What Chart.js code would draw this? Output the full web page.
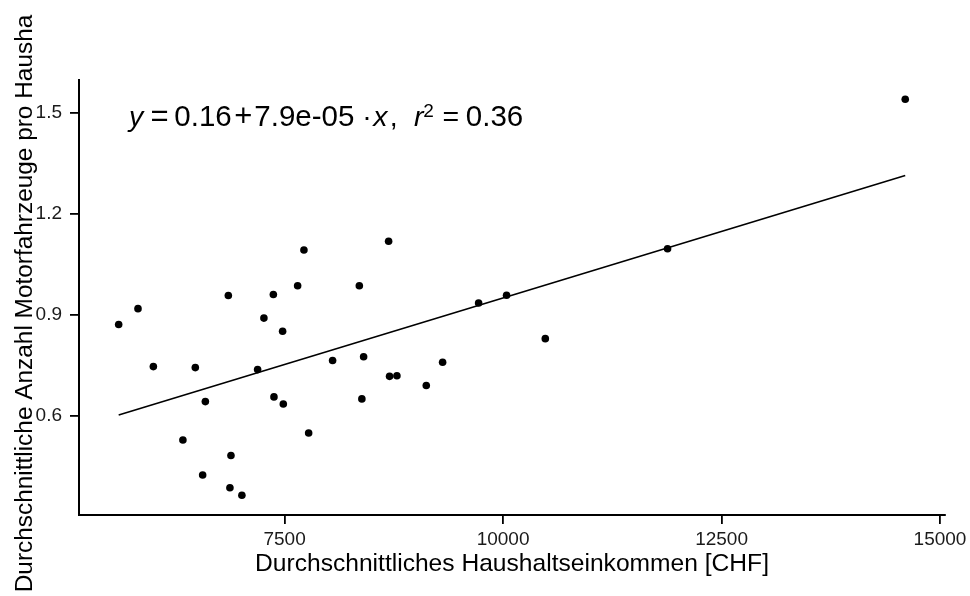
<!DOCTYPE html>
<html>
<head>
<meta charset="utf-8">
<script src="https://cdn.jsdelivr.net/npm/chart.js@4.4.0/dist/chart.umd.min.js"></script>
<style>
  html, body { margin: 0; padding: 0; background: #fff; }
  #wrap { width: 970px; height: 596px; }
</style>
</head>
<body>
<div id="wrap"><canvas id="c" width="970" height="596"></canvas></div>
<script>
// Average household income per area [CHF] and average vehicles per household
const income = [
  5601, 5822, 5998, 6478, 6856, 6593, 6336, 6886, 6562, 6874,
  7011, 7263, 7371, 7477, 7191, 7378, 7485, 7649, 7721, 7775,
  8049, 8355, 8404, 8384, 8690, 8701, 8785, 9121, 9308, 9720,
  10040, 10483, 11882, 14602
];
const vehicles = [
  0.871, 0.918, 0.746, 0.743, 0.957, 0.642, 0.528, 0.482, 0.424, 0.386,
  0.364, 0.890, 0.960, 0.851, 0.737, 0.656, 0.635, 0.986, 1.092, 0.549,
  0.764, 0.986, 0.775, 0.650, 1.118, 0.717, 0.719, 0.690, 0.759, 0.935,
  0.958, 0.829, 1.096, 1.540
];

// Axis ticks
const xTicks = [7500, 10000, 12500, 15000];
const yTicks = [0.6, 0.9, 1.2, 1.5];

// Linear fit shown in the annotation
const fitIntercept = 0.16;
const fitSlope = 7.9e-05;
const rSquared = 0.36;

const xTitle = 'Durchschnittliches Haushaltseinkommen [CHF]';
const yTitle = 'Durchschnittliche Anzahl Motorfahrzeuge pro Hausha';

const FONT = "'Liberation Sans', Arial, sans-serif";

const xMinData = Math.min(...income);
const xMaxData = Math.max(...income);
const fitLine = [xMinData, xMaxData].map(x => ({ x, y: fitIntercept + fitSlope * x }));

function sciLabel(v) {
  const [m, e] = v.toExponential(1).split('e');
  const sign = e[0] === '-' ? '-' : '+';
  const digits = e.replace(/^[+-]/, '').padStart(2, '0');
  return m + 'e' + sign + digits;
}

// Equation text and y-axis title, drawn after the chart
const annotations = {
  id: 'annotations',
  afterDraw(chart) {
    const { ctx, chartArea } = chart;
    ctx.save();
    ctx.fillStyle = '#000';

    // y-axis title, rotated
    ctx.save();
    ctx.translate(32, (chartArea.top + chartArea.bottom) / 2 + 6);
    ctx.rotate(-Math.PI / 2);
    ctx.font = '24.4px ' + FONT;
    ctx.textAlign = 'center';
    ctx.textBaseline = 'alphabetic';
    ctx.fillText(yTitle, 0, 0);
    ctx.restore();

    // regression equation
    const x0 = chartArea.left + 49.3;
    const base = chartArea.top + 46;
    const pieces = [
      { t: 'y', it: true, dx: 0.7 },
      { t: '=', dx: 22.2, wide: true },
      { t: fitIntercept.toFixed(2), dx: 46, num: true },
      { t: '+', dx: 106, wide: true },
      { t: sciLabel(fitSlope), dx: 126, num: true },
      { t: '\u00B7', dx: 234 },
      { t: 'x', it: true, dx: 245 },
      { t: ',', dx: 261.5 },
      { t: 'r', it: true, dx: 285.7 },
      { t: '2', sup: true, dx: 295 },
      { t: '=', dx: 314.2 },
      { t: rSquared.toFixed(2), dx: 337.5, num: true }
    ];
    ctx.textAlign = 'left';
    ctx.textBaseline = 'alphabetic';
    pieces.forEach(p => {
      if (p.sup) {
        ctx.font = '19px ' + FONT;
        ctx.fillText(p.t, x0 + p.dx, base - 9);
      } else {
        const size = p.wide ? 31 : (p.num ? 29.5 : 28.5);
        ctx.font = (p.it ? 'italic ' : '') + size + 'px ' + FONT;
        ctx.fillText(p.t, x0 + p.dx, base);
      }
    });
    ctx.restore();
  }
};

new Chart(document.getElementById('c'), {
  type: 'scatter',
  data: {
    datasets: [
      {
        label: 'Fit',
        data: fitLine,
        showLine: true,
        borderColor: '#000',
        borderWidth: 1.6,
        pointRadius: 0,
        fill: false,
        order: 2
      },
      {
        label: 'Gemeinden',
        data: income.map((x, i) => ({ x, y: vehicles[i] })),
        backgroundColor: '#000',
        borderWidth: 0,
        pointRadius: 3.8,
        order: 1
      }
    ]
  },
  options: {
    responsive: false,
    animation: false,
    devicePixelRatio: 1,
    layout: { padding: { left: 0, right: 25, top: 80, bottom: 0 } },
    plugins: {
      legend: { display: false },
      tooltip: { enabled: false }
    },
    scales: {
      x: {
        type: 'linear',
        min: 5147,
        max: 15057,
        afterBuildTicks: s => { s.ticks = xTicks.map(v => ({ value: v })); },
        afterFit: s => { s.height = 81; s.paddingLeft = 0; s.paddingRight = 0; },
        ticks: {
          font: { family: FONT, size: 19 },
          color: '#1a1a1a',
          padding: 4,
          maxRotation: 0,
          autoSkip: false,
          callback: v => String(v)
        },
        grid: {
          drawOnChartArea: false,
          drawTicks: true,
          tickLength: 9,
          color: '#000',
          tickColor: '#000',
          lineWidth: 1.8,
          tickWidth: 1.8
        },
        border: { display: true, color: '#000', width: 2 },
        title: {
          display: true,
          text: xTitle,
          color: '#000',
          font: { family: FONT, size: 24.6 },
          padding: { top: 0, bottom: 17 }
        }
      },
      y: {
        type: 'linear',
        min: 0.3053,
        max: 1.597,
        afterBuildTicks: s => { s.ticks = yTicks.map(v => ({ value: v })); },
        afterFit: s => { s.width = 79; s.paddingTop = 0; s.paddingBottom = 0; },
        ticks: {
          font: { family: FONT, size: 19 },
          color: '#1a1a1a',
          padding: 8,
          autoSkip: false,
          callback: v => v.toFixed(1)
        },
        grid: {
          drawOnChartArea: false,
          drawTicks: true,
          tickLength: 9,
          color: '#000',
          tickColor: '#000',
          lineWidth: 1.8,
          tickWidth: 1.8
        },
        border: { display: true, color: '#000', width: 2 }
      }
    }
  },
  plugins: [annotations]
});
</script>
</body>
</html>
